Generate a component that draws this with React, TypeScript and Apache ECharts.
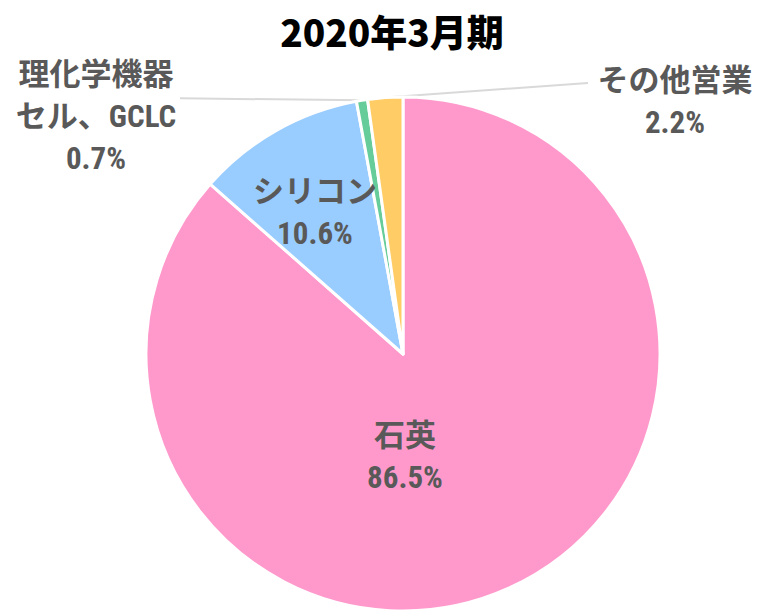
import React, { useEffect, useRef } from "react";
import * as echarts from "echarts";

const title = "2020年3月期";
const categories = ["石英", "シリコン", "理化学機器\nセル、GCLC", "その他営業"];
const values = [86.5, 10.6, 0.7, 2.2];
const colors = ["#FF99CC", "#99CCFF", "#66CC99", "#FFCC66"];
const labelPlacement = ["inside", "inside", "outside", "outside"];

// label block centres (layout only)
const labelCenters: [number, number][] = [
  [405, 456],
  [315, 212],
  [96, 116],
  [675, 101],
];

const FONT = '"Roboto Condensed", "Noto Sans CJK JP", sans-serif';

export default function App() {
  const ref = useRef<HTMLDivElement>(null);
  useEffect(() => {
    document.body.style.margin = "0";
    const chart = echarts.init(ref.current!, null, { renderer: "svg" });
    chart.setOption({
      animation: false,
      backgroundColor: "#ffffff",
      graphic: [
        {
          type: "text",
          x: 392,
          y: 31,
          style: {
            text: title,
            align: "center",
            verticalAlign: "middle",
            fontFamily: '"Noto Sans CJK JP", sans-serif',
            fontWeight: 900,
            fontSize: 37,
            fill: "#000000",
          },
        },
      ],
      series: [
        {
          type: "pie",
          center: [403, 354],
          radius: 257,
          startAngle: 90,
          clockwise: true,
          percentPrecision: 1,
          avoidLabelOverlap: false,
          itemStyle: { borderColor: "#ffffff", borderWidth: 3 },
          label: {
            formatter: "{b}\n{d}%",
            fontFamily: FONT,
            fontSize: 31,
            fontWeight: "bold",
            color: "#595959",
            lineHeight: 42,
            align: "center",
          },
          labelLine: {
            show: true,
            lineStyle: { color: "#D9D9D9", width: 2 },
            length: 20,
            length2: 20,
          },
          labelLayout: (params: any) => {
            const i = params.dataIndex;
            const [cx, cy] = labelCenters[i];
            const res: any = { x: cx, y: cy, align: "center", verticalAlign: "middle" };
            const pts = params.labelLinePoints;
            if (labelPlacement[i] === "outside" && pts && pts.length) {
              const p0 = pts[0];
              if (i === 2) {
                const end = [180, p0[1] - 2];
                res.labelLinePoints = [p0, end, end];
              } else {
                const end = [588, 83];
                res.labelLinePoints = [p0, end, end];
              }
            }
            return res;
          },
          data: categories.map((name, i) => ({
            name,
            value: values[i],
            itemStyle: { color: colors[i] },
            label: { position: labelPlacement[i] },
            labelLine: { show: labelPlacement[i] === "outside" },
          })),
        },
      ],
    });
    return () => chart.dispose();
  }, []);
  return <div ref={ref} style={{ width: 759, height: 611 }} />;
}
